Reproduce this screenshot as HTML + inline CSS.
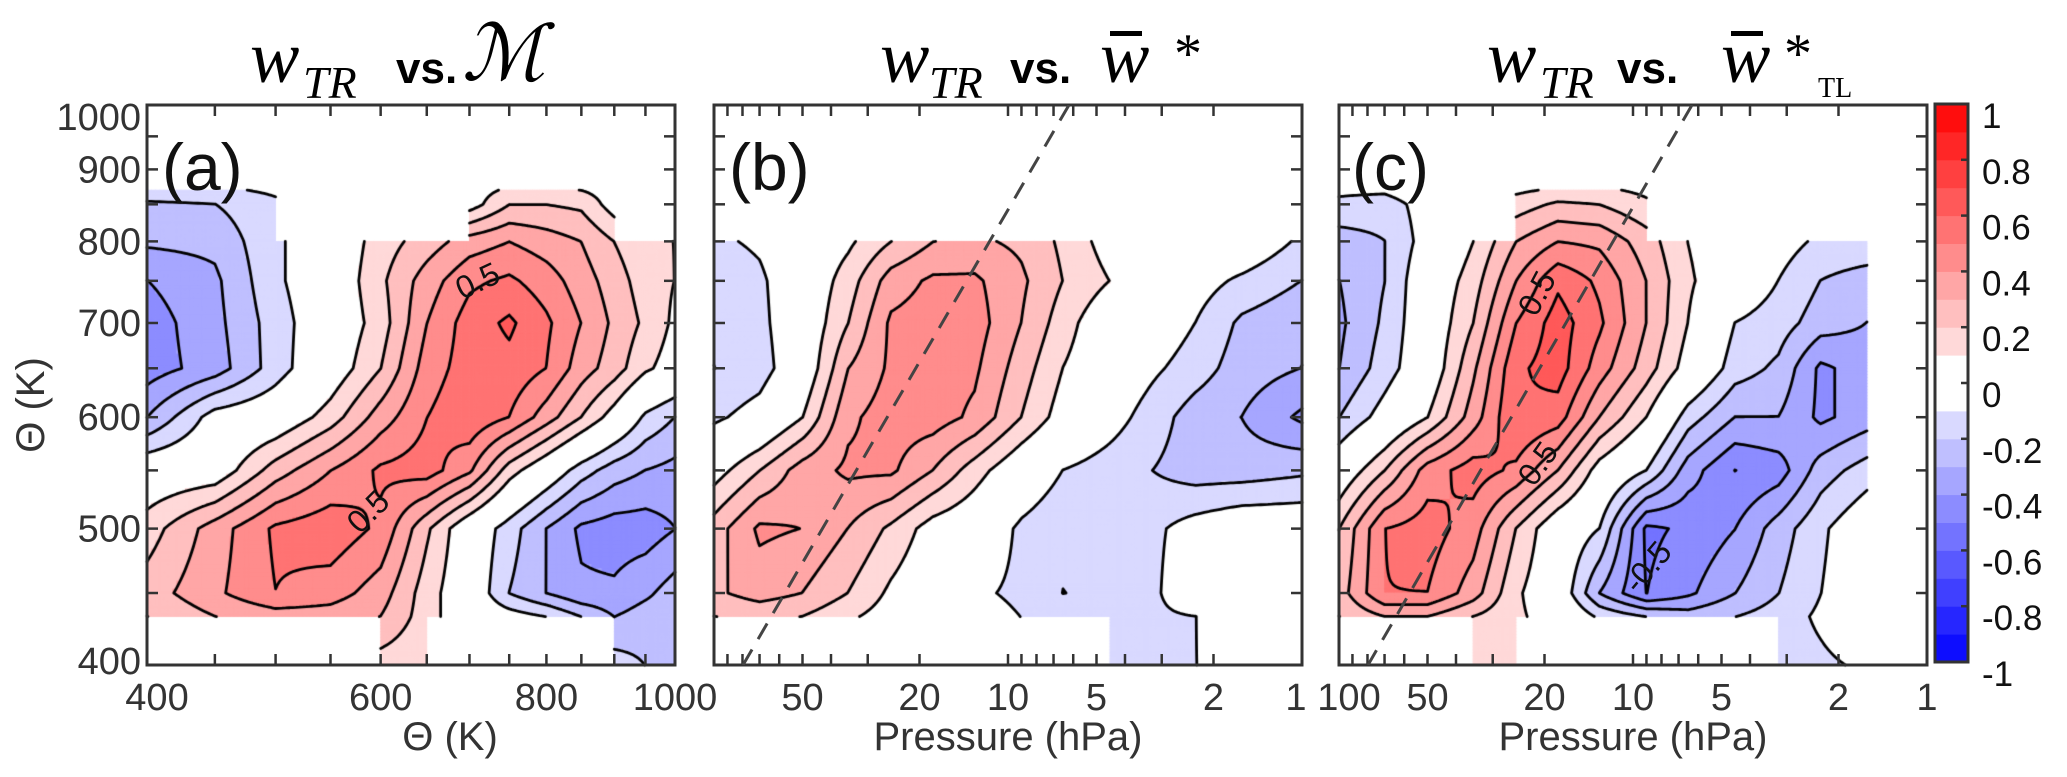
<!DOCTYPE html>
<html>
<head>
<meta charset="utf-8">
<style>
  html,body{margin:0;padding:0;background:#fff;}
  #wrap{position:relative;width:2067px;height:777px;overflow:hidden;background:#fff;}
  #cv,#sv{position:absolute;left:0;top:0;}
</style>
</head>
<body>
<div id="wrap">
<canvas id="cv" width="2067" height="777"></canvas>
<svg id="sv" width="2067" height="777" xmlns="http://www.w3.org/2000/svg" font-family="Liberation Sans, sans-serif">
  <defs>
    <clipPath id="clipB"><rect x="714" y="105" width="588" height="560"/></clipPath>
    <clipPath id="clipC"><rect x="1339" y="105" width="588" height="560"/></clipPath>
  </defs>
  <g fill="#000">
    <text x="250" y="82" font-family="Liberation Serif, serif" font-style="italic" font-size="74">w</text>
    <text x="303" y="98" font-family="Liberation Serif, serif" font-style="italic" font-size="46">TR</text>
    <text x="396" y="83" font-family="Liberation Sans, sans-serif" font-size="44" font-weight="bold">vs.</text>
    <text x="462" y="80" font-family="Liberation Serif, DejaVu Serif, serif" font-style="italic" font-size="78">ℳ</text>
  </g>
  <g fill="#000">
    <text x="880" y="82" font-family="Liberation Serif, serif" font-style="italic" font-size="74">w</text>
    <text x="929" y="98" font-family="Liberation Serif, serif" font-style="italic" font-size="46">TR</text>
    <text x="1010" y="83" font-family="Liberation Sans, sans-serif" font-size="44" font-weight="bold">vs.</text>
    <text x="1100" y="82" font-family="Liberation Serif, serif" font-style="italic" font-size="74">w</text>
    <rect x="1110" y="31" width="32" height="5" fill="#000"/>
    <text x="1174" y="72" font-family="Liberation Serif, serif" font-size="56">*</text>
  </g>
  <g fill="#000">
    <text x="1487" y="82" font-family="Liberation Serif, serif" font-style="italic" font-size="74">w</text>
    <text x="1540" y="98" font-family="Liberation Serif, serif" font-style="italic" font-size="46">TR</text>
    <text x="1617" y="83" font-family="Liberation Sans, sans-serif" font-size="44" font-weight="bold">vs.</text>
    <text x="1721" y="82" font-family="Liberation Serif, serif" font-style="italic" font-size="74">w</text>
    <rect x="1731" y="31" width="32" height="5" fill="#000"/>
    <text x="1784" y="72" font-family="Liberation Serif, serif" font-size="56">*</text>
    <text x="1818" y="97" font-family="Liberation Serif, serif" font-size="28">TL</text>
  </g>
  <g id="axes"></g>
  <line x1="1069" y1="105" x2="743" y2="665" stroke="#444" stroke-width="3" stroke-dasharray="18 12" clip-path="url(#clipB)"/>
  <line x1="1692" y1="105" x2="1368" y2="665" stroke="#444" stroke-width="3" stroke-dasharray="18 12" clip-path="url(#clipC)"/>
  <text x="162" y="190" font-size="66" fill="#111">(a)</text>
  <text x="729" y="190" font-size="66" fill="#111">(b)</text>
  <text x="1352" y="190" font-size="66" fill="#111">(c)</text>
  <g font-size="32" fill="#111">
    <text transform="translate(462,300) rotate(-25)">0.5</text>
    <text transform="translate(360,535) rotate(-45)">0.5</text>
    <text transform="translate(1536,318) rotate(-62)">0.5</text>
    <text transform="translate(1534,488) rotate(-55)">0.5</text>
    <text transform="translate(1638,595) rotate(-50)">-0.5</text>
  </g>
  <text x="450" y="750" font-size="40" fill="#333" text-anchor="middle">Θ (K)</text>
  <text x="1008" y="750" font-size="40" fill="#333" text-anchor="middle">Pressure (hPa)</text>
  <text x="1633" y="750" font-size="40" fill="#333" text-anchor="middle">Pressure (hPa)</text>
  <text transform="translate(44,405) rotate(-90)" font-size="40" fill="#333" text-anchor="middle">Θ (K)</text>
  <g id="cbar"></g>
</svg>
</div>
<script>
const N = null;
const thetaRows = [870, 850, 800, 750, 700, 650, 600, 550, 500, 450, 433, 400];
const thetaCols = [400, 450, 500, 550, 600, 650, 700, 750, 800, 850, 900, 950, 1000];
const pressureCols = [100, 70, 50, 35, 25, 18, 13, 9, 6.5, 4.5, 3.2, 2.3, 1.6, 1];

const valuesA = [
  [-0.12,-0.12,-0.08,N,N,N,0.05,0.12,0.12,0.1,0.05,N,N],
  [-0.22,-0.2,-0.12,N,N,N,0.05,0.2,0.2,0.18,0.05,N,N],
  [-0.28,-0.27,-0.12,0.0,0.15,0.25,0.35,0.4,0.35,0.3,0.2,0.12,0.1],
  [-0.4,-0.32,-0.12,0.0,0.18,0.35,0.48,0.52,0.45,0.35,0.25,0.15,0.1],
  [-0.45,-0.33,-0.15,0.0,0.15,0.4,0.55,0.62,0.52,0.4,0.28,0.18,0.08],
  [-0.45,-0.35,-0.15,0.02,0.2,0.45,0.55,0.57,0.5,0.35,0.25,0.12,0.05],
  [-0.3,-0.05,0.0,0.15,0.35,0.5,0.58,0.5,0.35,0.2,0.05,-0.12,-0.2],
  [0.0,0.02,0.25,0.4,0.52,0.55,0.42,0.15,0.0,-0.15,-0.25,-0.3,-0.33],
  [0.15,0.35,0.52,0.57,0.48,0.22,0.0,-0.15,-0.3,-0.42,-0.45,-0.45,-0.4],
  [0.25,0.38,0.5,0.45,0.35,0.15,0.0,-0.2,-0.3,-0.38,-0.38,-0.32,-0.25],
  [0.2,0.3,0.35,0.35,0.3,0.15,0.0,-0.05,-0.1,-0.2,-0.3,-0.25,-0.25],
  [N,N,N,N,0.15,0.12,N,N,N,N,-0.15,-0.2,-0.22]
];
const valuesB = [
  [N,N,N,N,N,N,N,N,N,N,N,N,N,N],
  [N,N,N,N,N,N,N,N,N,N,N,N,N,N],
  [-0.12,-0.08,0.0,0.08,0.2,0.3,0.32,0.28,0.18,0.05,0.0,0.0,0.0,-0.12],
  [-0.18,-0.12,0.0,0.15,0.35,0.42,0.42,0.32,0.2,0.1,0.0,-0.05,-0.12,-0.2],
  [-0.18,-0.13,0.0,0.2,0.42,0.45,0.45,0.3,0.15,0.0,-0.02,-0.1,-0.22,-0.28],
  [-0.2,-0.15,0.0,0.3,0.42,0.45,0.42,0.25,0.1,0.0,-0.08,-0.15,-0.25,-0.3],
  [-0.12,-0.05,0.1,0.38,0.45,0.45,0.38,0.2,0.05,-0.05,-0.15,-0.25,-0.3,-0.42],
  [0.05,0.2,0.35,0.42,0.42,0.3,0.15,0.0,-0.1,-0.15,-0.2,-0.25,-0.25,-0.22],
  [0.25,0.42,0.4,0.3,0.18,0.05,0.0,-0.12,-0.18,-0.18,-0.12,-0.05,0.0,0.0],
  [0.28,0.35,0.3,0.2,0.08,0.0,-0.08,-0.12,-0.2,-0.18,-0.12,0.0,0.0,0.0],
  [0.2,0.22,0.2,0.12,0.05,0.0,-0.05,-0.1,-0.15,-0.15,-0.12,-0.1,0.0,0.0],
  [N,N,N,N,N,N,N,N,N,-0.12,-0.12,-0.1,-0.05,N]
];
const valuesC = [
  [-0.08,-0.08,-0.02,N,0.08,0.12,0.12,0.08,N,N,N,N,N,N],
  [-0.12,-0.15,-0.05,N,0.15,0.22,0.2,0.12,N,N,N,N,N,N],
  [-0.25,-0.2,-0.05,0.1,0.3,0.4,0.38,0.25,0.1,0.0,-0.05,-0.12,-0.12,N],
  [-0.3,-0.2,0.0,0.15,0.4,0.58,0.48,0.3,0.12,0.0,-0.1,-0.2,-0.25,N],
  [-0.32,-0.18,0.0,0.2,0.5,0.65,0.52,0.3,0.1,-0.1,-0.15,-0.25,-0.3,N],
  [-0.3,-0.15,0.0,0.28,0.58,0.65,0.45,0.25,0.05,-0.15,-0.22,-0.42,-0.35,N],
  [-0.2,-0.05,0.1,0.35,0.6,0.55,0.3,0.1,-0.15,-0.3,-0.3,-0.42,-0.35,N],
  [0.0,0.2,0.45,0.55,0.48,0.3,0.05,-0.1,-0.35,-0.5,-0.45,-0.25,-0.15,N],
  [0.2,0.5,0.55,0.45,0.2,0.0,-0.1,-0.52,-0.48,-0.4,-0.25,-0.12,0.0,N],
  [0.25,0.5,0.5,0.35,0.12,0.0,-0.3,-0.5,-0.42,-0.3,-0.2,-0.1,0.0,N],
  [0.2,0.3,0.3,0.2,0.12,0.05,-0.12,-0.2,-0.25,-0.2,-0.15,-0.08,0.0,N],
  [N,N,N,0.15,0.12,N,N,N,N,N,-0.15,-0.12,-0.08,N]
];
const thetaTickLabels = [400, 500, 600, 700, 800, 900, 1000];
const thetaXTickLabels = [400, 600, 800, 1000];
const pressureTickLabelsB = [50, 20, 10, 5, 2, 1];
const pressureTickLabelsC = [100, 50, 20, 10, 5, 2, 1];
const colorbarTicks = [1, 0.8, 0.6, 0.4, 0.2, 0, -0.2, -0.4, -0.6, -0.8, -1];
const contourLevels = [-0.9,-0.8,-0.7,-0.6,-0.5,-0.4,-0.3,-0.2,-0.1,0.1,0.2,0.3,0.4,0.5,0.6,0.7,0.8,0.9];

const PY0 = 105, PY1 = 665;
const panels = {
  a: {x0:147, x1:675},
  b: {x0:714, x1:1302},
  c: {x0:1339, x1:1927}
};
function yTheta(t){ return PY1 - (PY1-PY0)*Math.log(t/400)/Math.log(2.5); }
function xThetaA(t){ const P=panels.a; return P.x0 + (P.x1-P.x0)*Math.log(t/400)/Math.log(2.5); }
function xPres(p, P){ return P.x0 + (P.x1-P.x0)*Math.log10(100/p)/2; }

function colorOf(v){
  const a = Math.abs(v);
  if (a < 0.1) return null;
  const band = Math.min(9, Math.floor(a*10+1e-9));
  const t = (band+0.5)/10;
  const c = Math.round(255*(1-t));
  return v > 0 ? `rgb(255,${c},${c})` : `rgb(${c},${c},255)`;
}

const cv = document.getElementById('cv');
const ctx = cv.getContext('2d');

function drawField(M, xs, ys){
  const S = 16;
  const segs = [];
  for (let r=0; r<ys.length-1; r++){
    for (let c=0; c<xs.length-1; c++){
      const v00=M[r][c], v10=M[r][c+1], v01=M[r+1][c], v11=M[r+1][c+1];
      if (v00===null||v10===null||v01===null||v11===null) continue;
      const xa=xs[c], xb=xs[c+1], ya=ys[r], yb=ys[r+1];
      const g=[];
      for (let j=0;j<=S;j++){ g[j]=[]; const fy=j/S;
        for (let i=0;i<=S;i++){ const fx=i/S;
          g[j][i]=(v00*(1-fx)+v10*fx)*(1-fy)+(v01*(1-fx)+v11*fx)*fy; } }
      const X=i=>xa+(xb-xa)*i/S, Y=j=>ya+(yb-ya)*j/S;
      for (let j=0;j<S;j++) for (let i=0;i<S;i++){
        const v=(g[j][i]+g[j][i+1]+g[j+1][i]+g[j+1][i+1])/4;
        const col=colorOf(v);
        if (!col) continue;
        ctx.fillStyle=col;
        const x0=Math.min(X(i),X(i+1)), x1=Math.max(X(i),X(i+1));
        const y0=Math.min(Y(j),Y(j+1)), y1=Math.max(Y(j),Y(j+1));
        ctx.fillRect(x0-0.4,y0-0.4,x1-x0+0.8,y1-y0+0.8);
      }
      for (let j=0;j<S;j++) for (let i=0;i<S;i++){
        const q=[[X(i),Y(j),g[j][i]],[X(i+1),Y(j),g[j][i+1]],[X(i+1),Y(j+1),g[j+1][i+1]],[X(i),Y(j+1),g[j+1][i]]];
        for (const L0 of contourLevels){
          const L = L0 + 0.0013;
          const pts=[];
          for (let e=0;e<4;e++){
            const A=q[e], B=q[(e+1)%4];
            if ((A[2]-L)*(B[2]-L)<0){
              const t=(L-A[2])/(B[2]-A[2]);
              pts.push([A[0]+(B[0]-A[0])*t, A[1]+(B[1]-A[1])*t]);
            }
          }
          if (pts.length>=2) segs.push([pts[0],pts[1]]);
          if (pts.length===4) segs.push([pts[2],pts[3]]);
        }
      }
    }
  }
  ctx.strokeStyle='#000'; ctx.lineWidth=2.8; ctx.lineCap='round';
  ctx.beginPath();
  for (const s of segs){ ctx.moveTo(s[0][0],s[0][1]); ctx.lineTo(s[1][0],s[1][1]); }
  ctx.stroke();
}

const ysGrid = thetaRows.map(yTheta);
drawField(valuesA, thetaCols.map(xThetaA), ysGrid);
drawField(valuesB, pressureCols.map(p=>xPres(p,panels.b)), ysGrid);
drawField(valuesC, pressureCols.map(p=>xPres(p,panels.c)), ysGrid);

const NS='http://www.w3.org/2000/svg';
const axes=document.getElementById('axes');
function mk(tag, attrs, parent){
  const el=document.createElementNS(NS,tag);
  for (const k in attrs) el.setAttribute(k, attrs[k]);
  (parent||axes).appendChild(el);
  return el;
}
const TICK=11;
for (const key of ['a','b','c']){
  const P=panels[key];
  const g=mk('g',{});
  
  
  const fr=mk('rect',{x:P.x0,y:PY0,width:P.x1-P.x0,height:PY1-PY0,fill:'none',stroke:'#333','stroke-width':3},g);
  
  
  for (let t=400;t<=1000;t+=50){
    const y=yTheta(t);
    mk('line',{x1:P.x0,y1:y,x2:P.x0+TICK,y2:y,stroke:'#333','stroke-width':2.5},g);
    mk('line',{x1:P.x1,y1:y,x2:P.x1-TICK,y2:y,stroke:'#333','stroke-width':2.5},g);
  }
  let xt=[];
  if (key==='a'){ for (let t=400;t<=1000;t+=50) xt.push(xThetaA(t)); }
  else {
    for (let d=1; d<=100; d*=10) for (let m=1;m<10;m++){ const p=m*d; if (p>100) break; xt.push(xPres(p,P)); }
  }
  for (const x of xt){
    mk('line',{x1:x,y1:PY1,x2:x,y2:PY1-TICK,stroke:'#333','stroke-width':2.5},g);
    mk('line',{x1:x,y1:PY0,x2:x,y2:PY0+TICK,stroke:'#333','stroke-width':2.5},g);
  }
}
for (const t of thetaTickLabels){
  let y=yTheta(t)+13;
  if (t===1000) y+=12;
  if (t===400) y-=4;
  const el=mk('text',{x:141,y:y,'text-anchor':'end','font-size':38,fill:'#333'});
  el.textContent=String(t);
  
  
}
for (const t of thetaXTickLabels){
  let x=xThetaA(t);
  if (t===400) x+=10;
  const el=mk('text',{x:x,y:710,'text-anchor':'middle','font-size':38,fill:'#333'});
  el.textContent=String(t);
  
  
}
for (const p of pressureTickLabelsB){
  let x=xPres(p,panels.b);
  if (p===1) x-=6;
  const el=mk('text',{x:x,y:710,'text-anchor':'middle','font-size':38,fill:'#333'});
  el.textContent=String(p);
  
  
}
for (const p of pressureTickLabelsC){
  let x=xPres(p,panels.c);
  if (p===100) x+=10;
  const el=mk('text',{x:x,y:710,'text-anchor':'middle','font-size':38,fill:'#333'});
  el.textContent=String(p);
  
  
}
const cb=document.getElementById('cbar');
const CB={x0:1935,x1:1968,y0:104,y1:662};
function yCb(v){ return CB.y0+(CB.y1-CB.y0)*(1-v)/2; }
for (let k=-10;k<10;k++){
  const lo=k/10, hi=(k+1)/10;
  const col=colorOf((lo+hi)/2)||'#ffffff';
  const r=mk('rect',{x:CB.x0,y:yCb(hi),width:CB.x1-CB.x0,height:yCb(lo)-yCb(hi)+0.5,fill:col},cb);
  
  
}
mk('rect',{x:CB.x0,y:CB.y0,width:CB.x1-CB.x0,height:CB.y1-CB.y0,fill:'none',stroke:'#333','stroke-width':3},cb);
for (const v of colorbarTicks){
  const y=yCb(v);
  mk('line',{x1:CB.x1,y1:y,x2:CB.x1-7,y2:y,stroke:'#333','stroke-width':2.5},cb);
  const el=mk('text',{x:1982,y:y+24,'font-size':35,fill:'#111'},cb);
  el.textContent=String(v);
  
  
}
</script>
</body>
</html>
